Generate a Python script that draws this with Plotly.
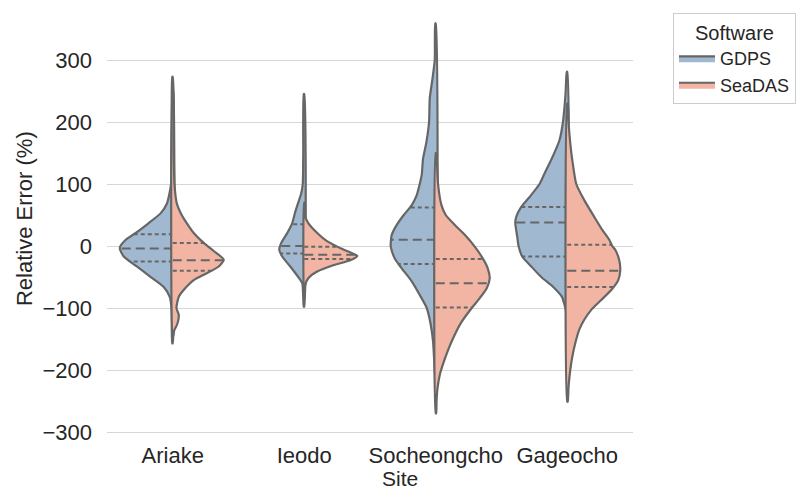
import numpy as np
import plotly.graph_objects as go

sites = ["Ariake", "Ieodo", "Socheongcho", "Gageocho"]
software = ["GDPS", "SeaDAS"]

# density profiles: (relative error value, half-width in px of the original)
ariake_gdps_y = [273, 200, 150, 100, 69, 53, 37, 21, 10, -3, -17, -33, -50, -66, -82, -100, -130, -157]
ariake_gdps_w = [0.5, 1.0, 1.3, 1.7, 5.7, 12, 24, 37, 47, 53, 49, 36, 22, 9, 3, 1.3, 1.0, 0.5]
ariake_seadas_y = [250, 150, 100, 69, 53, 37, 21, 5, -8, -22, -33, -44, -55, -69, -82, -100, -111, -120, -128, -136, -145]
ariake_seadas_w = [0.5, 1.0, 1.7, 4, 8, 14, 21, 31, 41, 51, 46, 34, 21, 12, 6, 3.7, 6, 5.5, 4, 1.5, 0.5]

ieodo_gdps_y = [245, 150, 100, 85, 70, 55, 37, 21, 5, -6, -17, -33, -50, -60, -75, -98]
ieodo_gdps_w = [0.5, 1.0, 1.5, 3.0, 6.0, 9, 12, 17, 23, 25, 22, 14, 6, 2, 1.2, 0.5]
ieodo_seadas_y = [70, 47, 37, 21, 10, -1, -9, -16, -23, -31, -41, -52, -63, -75]
ieodo_seadas_w = [0.5, 1, 4, 13, 21, 33, 44, 53, 46, 29, 13, 4, 1, 0.5]

soch_gdps_y = [359, 300, 265, 238, 200, 168, 141, 115, 100, 82, 66, 50, 34, 18, 5, -1, -20, -36, -57, -79, -100, -127, -154, -181, -210, -240]
soch_gdps_w = [0.5, 1, 3.7, 6, 6.7, 9.3, 12.7, 14, 16, 19, 24, 32, 39, 44, 45, 45, 41, 34, 24, 16, 9, 5, 2.7, 1.7, 0.8, 0.4]
soch_seadas_y = [150, 141, 100, 66, 50, 34, 18, -1, -20, -36, -52, -68, -84, -100, -122, -143, -165, -187, -208, -230, -250, -270]
soch_seadas_w = [0.5, 1, 2.3, 5.7, 10, 19, 29, 39, 47, 52, 54, 51, 44, 36, 26, 19, 13, 8, 4, 1.7, 0.8, 0.4]

gage_gdps_y = [281, 246, 200, 171, 139, 117, 100, 79, 63, 47, 37, 15, 0, -17, -33, -50, -66, -82, -95, -107]
gage_gdps_w = [0.5, 1.7, 4.3, 7.7, 16, 22.7, 27.7, 37.7, 46, 51, 52, 50, 48.7, 45, 36, 26, 14, 5.3, 2.7, 0.8]
gage_seadas_y = [230, 200, 166, 139, 100, 74, 47, 26, 10, 0, -6, -23, -39, -55, -71, -87, -103, -119, -135, -157, -179, -200, -227, -251]
gage_seadas_w = [0.5, 1.3, 3, 5, 9, 17, 27, 35, 42, 45, 48, 52, 53, 51, 44, 34, 24, 17, 12, 8, 5, 3, 1.3, 0.5]

# quartiles (Q3, median, Q1), listed top to bottom
ariake_q = {"GDPS": [19, -4, -25], "SeaDAS": [5, -23, -40]}
ieodo_q = {"GDPS": [35, 0, -12], "SeaDAS": [-1, -14, -21]}
soch_q = {"GDPS": [62, 10, -29], "SeaDAS": [-21, -60, -99]}
gage_q = {"GDPS": [63, 38, -17], "SeaDAS": [2, -40, -66]}

profiles = {
    "Ariake": {"GDPS": (ariake_gdps_y, ariake_gdps_w), "SeaDAS": (ariake_seadas_y, ariake_seadas_w)},
    "Ieodo": {"GDPS": (ieodo_gdps_y, ieodo_gdps_w), "SeaDAS": (ieodo_seadas_y, ieodo_seadas_w)},
    "Socheongcho": {"GDPS": (soch_gdps_y, soch_gdps_w), "SeaDAS": (soch_seadas_y, soch_seadas_w)},
    "Gageocho": {"GDPS": (gage_gdps_y, gage_gdps_w), "SeaDAS": (gage_seadas_y, gage_seadas_w)},
}
quartiles = {"Ariake": ariake_q, "Ieodo": ieodo_q, "Socheongcho": soch_q, "Gageocho": gage_q}

colors = {"GDPS": "#a1b9d0", "SeaDAS": "#f2b5a3"}
side = {"GDPS": -1, "SeaDAS": 1}
line_col = "#666666"
PX_PER_CAT = 131.5

fig = go.Figure()
for i, site in enumerate(sites):
    for sw in software:
        ys, ws = profiles[site][sw]
        ys = np.array(ys, float)
        ws = np.array(ws, float) / PX_PER_CAT
        s = side[sw]
        xs = np.concatenate([[i], i + s * ws, [i, i]])
        yy = np.concatenate([[ys[0]], ys, [ys[-1], ys[0]]])
        fig.add_trace(go.Scatter(
            x=xs, y=yy, mode="lines", fill="toself", fillcolor=colors[sw],
            line=dict(color=line_col, width=2.2, shape="spline", smoothing=0.6),
            name=sw, legendgroup=sw, showlegend=(i == 0), hoverinfo="skip",
        ))
        # quartile lines
        order = np.argsort(ys)
        for k, q in enumerate(quartiles[site][sw]):
            wq = np.interp(q, ys[order], ws[order])
            dash = "9px,5px" if k == 1 else "4px,3px"
            fig.add_trace(go.Scatter(
                x=[i, i + s * wq], y=[q, q], mode="lines",
                line=dict(color=line_col, width=2, dash=dash),
                showlegend=False, hoverinfo="skip",
            ))

font_family = "Liberation Sans, Arial, sans-serif"
fig.update_layout(
    width=798, height=491,
    margin=dict(l=107, r=165, t=5, b=57, autoexpand=False),
    paper_bgcolor="white", plot_bgcolor="white",
    font=dict(family=font_family, size=22, color="#262626"),
    showlegend=True,
    legend=dict(
        x=1.076, y=0.981, xanchor="left", yanchor="top",
        bordercolor="#cccccc", borderwidth=1, bgcolor="white",
        font=dict(size=18, color="#262626"),
        title=dict(text="Software", side="top center", font=dict(size=20, color="#262626")),
        itemwidth=36, tracegroupgap=0,
    ),
    xaxis=dict(
        range=[-0.5, 3.5], tickvals=list(range(len(sites))), ticktext=sites,
        showgrid=False, zeroline=False, showline=False, ticks="",
        ticklabelstandoff=6, tickfont=dict(size=22, color="#262626"),
    ),
    yaxis=dict(
        range=[-303.2, 388.7],
        tickvals=[-300, -200, -100, 0, 100, 200, 300],
        ticktext=["\u2212300", "\u2212200", "\u2212100", "0", "100", "200", "300"],
        showgrid=True, gridcolor="#d6d6d6", gridwidth=1.3, zeroline=False, showline=False,
        ticks="", ticklabelstandoff=14, tickfont=dict(size=22, color="#262626"),
    ),
    annotations=[
        dict(text="Site", xref="paper", yref="paper", x=0.557, y=-0.1026,
             showarrow=False, xanchor="center", yanchor="middle",
             font=dict(size=21, color="#262626")),
        dict(text="Relative Error (%)", xref="paper", yref="paper", x=-0.158, y=0.503,
             showarrow=False, xanchor="center", yanchor="middle", textangle=-90,
             font=dict(size=22, color="#262626")),
    ],
)

fig.write_html("out.html", config={"displayModeBar": False},
               post_script="document.body.style.margin='0';")
